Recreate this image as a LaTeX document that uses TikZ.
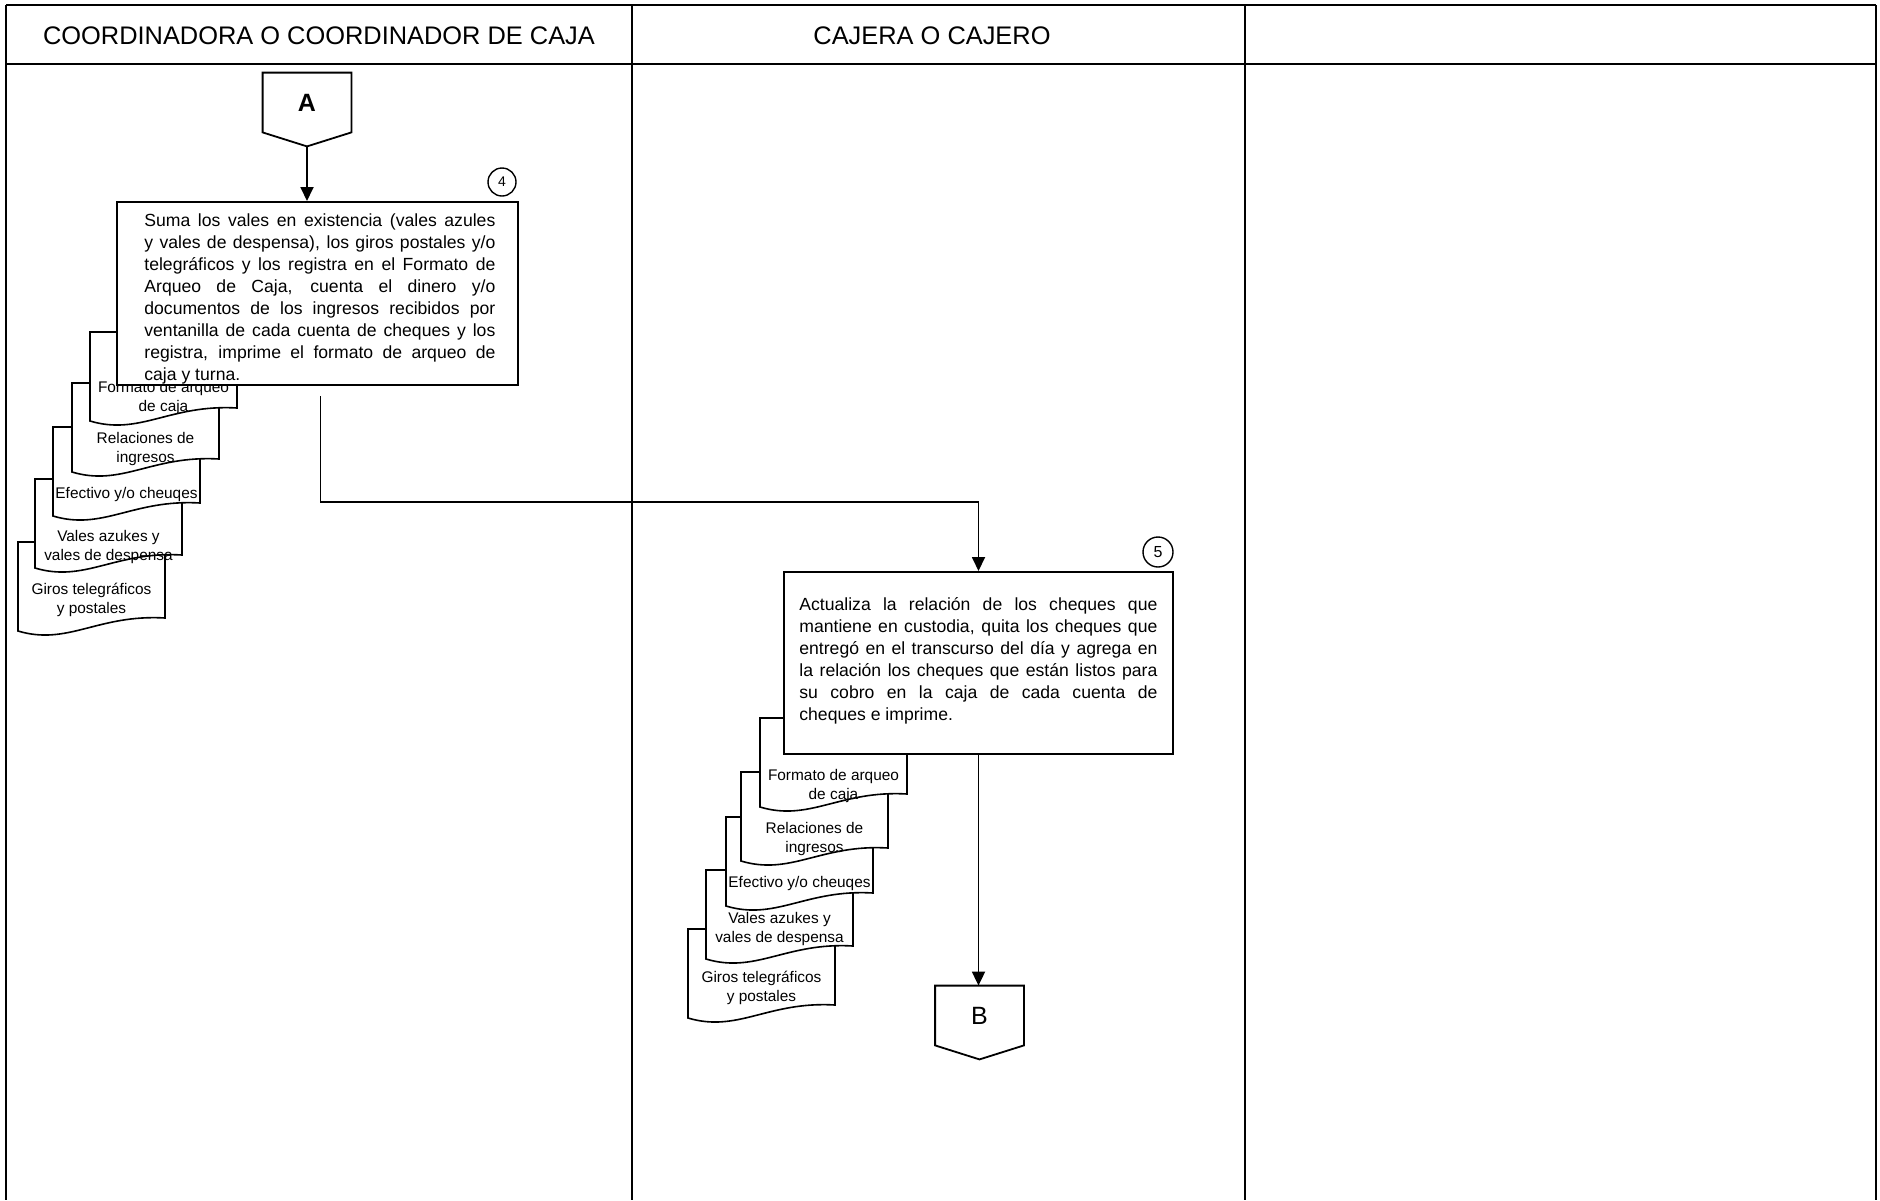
\documentclass[tikz,border=0pt]{standalone}
\usepackage{fontspec}
\setmainfont{Liberation Sans}
\usetikzlibrary{arrows.meta,calc}

\tolerance=9999
\hbadness=10000

% one sheet of paper with a wavy bottom, text centred on it
\newcommand{\papel}[5]{%
  \begin{scope}[shift={(#2,#3)}]
    \filldraw[docline] (0,0) -- (147,0) -- (147,76)
      .. controls (80,72) and (50,104) .. (0,89) -- cycle;
    \node[doctext] (#1) at (73.5,#5) {#4};
  \end{scope}}

\begin{document}
\begin{tikzpicture}[x=0.5pt,y=-0.5pt,
    every node/.style={inner sep=0pt},
    frame/.style={line width=0.7pt},
    headline/.style={line width=1.3pt},
    lane/.style={font=\fontsize{12.7}{15}\selectfont},
    proc/.style={draw,fill=white,line width=1pt,minimum width=200.5pt,minimum height=91.5pt},
    proctext/.style={anchor=north west,align=justify,font=\fontsize{8.8}{11}\selectfont},
    docline/.style={draw=black,fill=white,line width=0.8pt},
    doctext/.style={align=center,font=\fontsize{7.7}{9.5}\selectfont},
    numcircle/.style={draw,circle,line width=0.7pt,minimum size=14pt,font=\fontsize{7}{8}\selectfont},
    offpage/.style={minimum width=44pt,minimum height=29.5pt},
    flow/.style={line width=0.9pt},
    flowarrow/.style={flow,-{Triangle[length=7pt,width=6.5pt]}}]
  \useasboundingbox (0,0) rectangle (1880,1200);

  % table
  \draw[frame] (6,5) -- (6,1200);
  \draw[frame] (632,5) -- (632,1200);
  \draw[frame] (1245,5) -- (1245,1200);
  \draw[frame] (1876,5) -- (1876,1200);
  \draw[headline] (6,5) -- (1876,5);
  \draw[headline] (6,64) -- (1876,64);
  \node[lane] (coord) at (319,36) {COORDINADORA O COORDINADOR DE CAJA};
  \node[lane] (cajero) at (932,36) {CAJERA O CAJERO};

  % coordinadora
  \node[offpage] (A) at (307,102.5) {\fontsize{12.5}{14}\selectfont\bfseries A};
  \draw[flow] (A.north west) -- (A.north east) -- (A.south east)
    -- ([yshift=-7pt]A.south) -- (A.south west) -- cycle;
  \coordinate (A-tip) at ([yshift=-7pt]A.south);

  \papel{g1}{18}{542}{Giros telegráficos\\y postales}{57.5}
  \papel{v1}{35}{479}{Vales azukes y\\vales de despensa}{68.5}
  \papel{e1}{53}{427}{Efectivo y/o cheuqes}{68}
  \papel{r1}{72}{383}{Relaciones de\\ingresos}{66.5}
  \papel{f1}{90}{332}{Formato de arqueo\\de caja}{66.5}

  \node[proc] (p4) at (317.5,293.5) {};
  \node[proctext,text width=175.5pt] (p4text) at (144,213)
    {Suma los vales en existencia (vales azules\linebreak
     y vales de despensa), los giros postales y/o\linebreak
     telegráficos y los registra en el Formato de\linebreak
     Arqueo de Caja, cuenta el dinero y/o\linebreak
     documentos de los ingresos recibidos por\linebreak
     ventanilla de cada cuenta de cheques y los\linebreak
     registra, imprime el formato de arqueo de\linebreak
     caja y turna.};
  \node[numcircle] (n4) at (502,182) {4};
  \draw[flowarrow] (A-tip) -- (A-tip |- p4.north);

  % cajero
  \papel{g2}{688}{929}{Giros telegráficos\\y postales}{58.5}
  \papel{v2}{706}{870}{Vales azukes y\\vales de despensa}{59.5}
  \papel{e2}{726}{817}{Efectivo y/o cheuqes}{67}
  \papel{r2}{741}{772}{Relaciones de\\ingresos}{67.5}
  \papel{f2}{760}{718}{Formato de arqueo\\de caja}{68.5}

  \node[proc,minimum width=194.5pt,minimum height=91pt] (p5) at (978.5,663) {};
  \node[proctext,text width=179pt] (p5text) at (799,597)
    {Actualiza la relación de los cheques que\linebreak
     mantiene en custodia, quita los cheques que\linebreak
     entregó en el transcurso del día y agrega en\linebreak
     la relación los cheques que están listos para\linebreak
     su cobro en la caja de cada cuenta de\linebreak
     cheques e imprime.};
  \node[numcircle,minimum size=15pt,font=\fontsize{8}{9}\selectfont] (n5) at (1158,552) {5};

  \coordinate (bend) at (978.5,502);
  \draw[flowarrow,shorten <=5pt] ([xshift=1.5pt]p4.south) |- (bend) -- (p5.north);

  \node[offpage] (B) at (979.5,1015.5) {\fontsize{12.5}{14}\selectfont B};
  \draw[flow] (B.north west) -- (B.north east) -- (B.south east)
    -- ([yshift=-7pt]B.south) -- (B.south west) -- cycle;
  \draw[flowarrow] (p5.south) -- (p5.south |- B.north);
\end{tikzpicture}
\end{document}
